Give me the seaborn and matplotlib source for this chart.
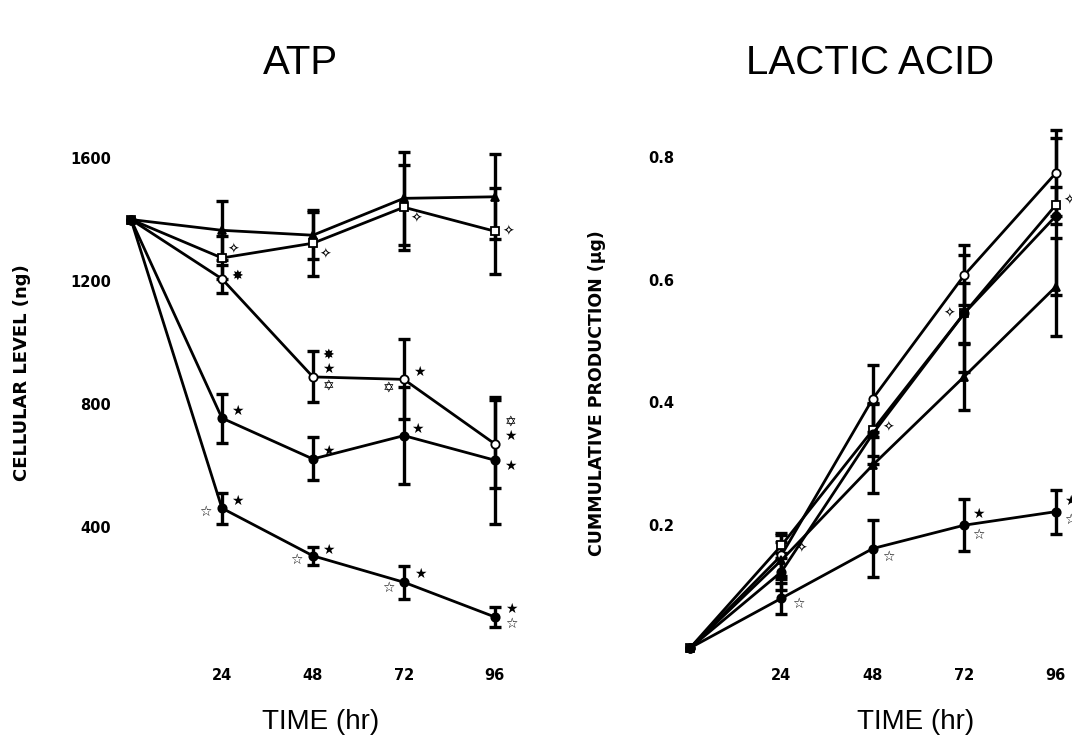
import numpy as np
import pandas as pd
import matplotlib
matplotlib.use("Agg")
import matplotlib.pyplot as plt
import seaborn as sns

sns.set_theme(style="white")
plt.rcParams["font.family"] = ["DejaVu Sans"]
plt.rcParams["text.color"] = "black"
plt.rcParams["axes.labelcolor"] = "black"
plt.rcParams["xtick.color"] = "black"
plt.rcParams["ytick.color"] = "black"

hours = [0, 24, 48, 72, 96]

# ATP, cellular level (ng)
atp_triangle = [1400, 1365, 1349, 1469, 1474]
atp_triangle_err = [0, 96, 77, 152, 138]
atp_square = [1400, 1275, 1323, 1440, 1362]
atp_square_err = [0, 70, 107, 139, 139]
atp_open_circle = [1400, 1207, 888, 880, 670]
atp_open_circle_err = [0, 45, 83, 130, 142]
atp_mid_circle = [1400, 754, 621, 697, 617]
atp_mid_circle_err = [0, 80, 70, 159, 207]
atp_low_circle = [1400, 461, 306, 220, 107]
atp_low_circle_err = [0, 50, 30, 53, 34]

# lactic acid, cumulative production (ug)
la_open_circle = [0, 0.151, 0.406, 0.607, 0.773]
la_open_circle_err = [0, 0.033, 0.055, 0.049, 0.07]
la_square = [0, 0.167, 0.355, 0.545, 0.721]
la_square_err = [0, 0.02, 0.042, 0.05, 0.03]
la_filled_circle = [0, 0.124, 0.349, 0.545, 0.703]
la_filled_circle_err = [0, 0.03, 0.05, 0.095, 0.128]
la_triangle = [0, 0.143, 0.298, 0.442, 0.588]
la_triangle_err = [0, 0.03, 0.046, 0.055, 0.08]
la_low_circle = [0, 0.081, 0.162, 0.20, 0.222]
la_low_circle_err = [0, 0.025, 0.046, 0.042, 0.036]

atp_yticks = [200, 400, 600, 800, 1000, 1200, 1400, 1600]
atp_yticklabels = ["", "400", "", "800", "", "1200", "", "1600"]
la_yticks = [0.2, 0.4, 0.6, 0.8]
la_yticklabels = ["0.2", "0.4", "0.6", "0.8"]
xticks = [24, 48, 72, 96]

# marker styles: (marker, face colour)
styles = {
    "triangle": ("^", "black"),
    "square": ("s", "white"),
    "open_circle": ("o", "white"),
    "filled_circle": ("o", "black"),
}

atp_series = [
    ("triangle", atp_triangle, atp_triangle_err),
    ("square", atp_square, atp_square_err),
    ("open_circle", atp_open_circle, atp_open_circle_err),
    ("filled_circle", atp_mid_circle, atp_mid_circle_err),
    ("filled_circle", atp_low_circle, atp_low_circle_err),
]
la_series = [
    ("open_circle", la_open_circle, la_open_circle_err),
    ("square", la_square, la_square_err),
    ("filled_circle", la_filled_circle, la_filled_circle_err),
    ("triangle", la_triangle, la_triangle_err),
    ("filled_circle", la_low_circle, la_low_circle_err),
]

# significance symbols: (series index, point index, symbol, dx, dy) in points
atp_marks = [
    (1, 1, "\u2727", 8, 6), (1, 2, "\u2727", 9, -8), (1, 3, "\u2727", 9, -8), (1, 4, "\u2727", 10, 0),
    (2, 1, "\u2738", 11, 2), (2, 2, "\u2738", 11, 16), (2, 2, "\u2605", 11, 6), (2, 2, "\u2721", 11, -6),
    (2, 3, "\u2605", 11, 5), (2, 3, "\u2721", -11, -6), (2, 4, "\u2721", 11, 16), (2, 4, "\u2605", 11, 6),
    (3, 1, "\u2605", 11, 5), (3, 2, "\u2605", 11, 6), (3, 3, "\u2605", 10, 5), (3, 4, "\u2605", 11, -4),
    (4, 1, "\u2605", 11, 5), (4, 1, "\u2606", -12, -3), (4, 2, "\u2605", 11, 4), (4, 2, "\u2606", -12, -3),
    (4, 3, "\u2605", 12, 6), (4, 3, "\u2606", -11, -4), (4, 4, "\u2605", 12, 6), (4, 4, "\u2606", 12, -5),
]
la_marks = [
    (1, 1, "\u2727", 14, -2), (1, 2, "\u2727", 11, 2), (1, 3, "\u2727", -11, 0), (1, 4, "\u2727", 10, 3),
    (4, 1, "\u2606", 12, -4), (4, 2, "\u2606", 11, -6), (4, 3, "\u2605", 10, 8), (4, 3, "\u2606", 10, -7),
    (4, 4, "\u2605", 11, 8), (4, 4, "\u2606", 11, -6),
]

tick_font = dict(fontsize=10.5, fontweight="bold")
title_font = dict(family=["Liberation Sans", "DejaVu Sans"], fontsize=29)
xlabel_font = dict(family=["Liberation Sans", "DejaVu Sans"], fontsize=20)

fig = plt.figure(figsize=(10.72, 7.42), dpi=100)
W, H = 1072, 742
ax1 = fig.add_axes([119.6 / W, 1 - 656 / H, 390.4 / W, (656 - 142.7) / H])
ax2 = fig.add_axes([682.4 / W, 1 - 656 / H, 403.6 / W, (656 - 113.8) / H])


def draw_panel(ax, series, marks):
    for kind, vals, errs in series:
        marker, face = styles[kind]
        df = pd.DataFrame({"hour": hours, "value": vals, "err": errs})
        bars = df[df["err"] > 0]
        ax.errorbar(bars["hour"], bars["value"], yerr=bars["err"], fmt="none", ecolor="black",
                    elinewidth=2.4, capsize=4, capthick=2.4, zorder=2, clip_on=False)
        sns.lineplot(data=df, x="hour", y="value", ax=ax, color="black", lw=2.0,
                     marker=marker, markersize=6, markerfacecolor=face,
                     markeredgecolor="black", markeredgewidth=1.3, zorder=3,
                     clip_on=False)
    for si, pi, sym, dx, dy in marks:
        ax.annotate(sym, (hours[pi], series[si][1][pi]), xytext=(dx, dy),
                    textcoords="offset points", ha="center", va="center",
                    fontsize=10, color="black", annotation_clip=False)
    for s in ax.spines.values():
        s.set_visible(False)
    ax.set_xticks(xticks)
    ax.set_xticklabels([str(t) for t in xticks], **tick_font)
    ax.tick_params(axis="x", direction="out", length=4, width=1.2, pad=5)
    ax.tick_params(axis="y", direction="out", length=5, width=2.2, pad=1)
    ax.grid(False)


draw_panel(ax1, atp_series, atp_marks)
ax1.set_xlim(-3, 100)
ax1.set_ylim(-20, 1650)
ax1.set_yticks(atp_yticks)
ax1.set_yticklabels(atp_yticklabels, **tick_font)

draw_panel(ax2, la_series, la_marks)
ax2.set_xlim(-2, 104)
ax2.set_ylim(-0.013, 0.87)
ax2.set_yticks(la_yticks)
ax2.set_yticklabels(la_yticklabels, **tick_font)

ax1.set_ylabel("CELLULAR LEVEL (ng)", fontsize=13, fontweight="bold")
ax1.yaxis.set_label_coords(-0.25, 0.553)
ax1.yaxis.label.set_va("center")
ax2.set_ylabel("CUMMULATIVE PRODUCTION (\u03bcg)", fontsize=12.5, fontweight="bold")
ax2.yaxis.set_label_coords(-0.212, 0.485)
ax2.yaxis.label.set_va("center")

ax1.set_xlabel("TIME (hr)", **xlabel_font)
ax1.xaxis.set_label_coords(0.514, -0.129)
ax1.xaxis.label.set_va("center")
ax2.set_xlabel("TIME (hr)", **xlabel_font)
ax2.xaxis.set_label_coords(0.579, -0.122)
ax2.xaxis.label.set_va("center")

fig.text(300 / W, 1 - 63 / H, "ATP", ha="center", va="center", **title_font)
fig.text(870 / W, 1 - 63 / H, "LACTIC ACID", ha="center", va="center", **title_font)

fig.savefig("out.png", dpi=100, facecolor="white")
